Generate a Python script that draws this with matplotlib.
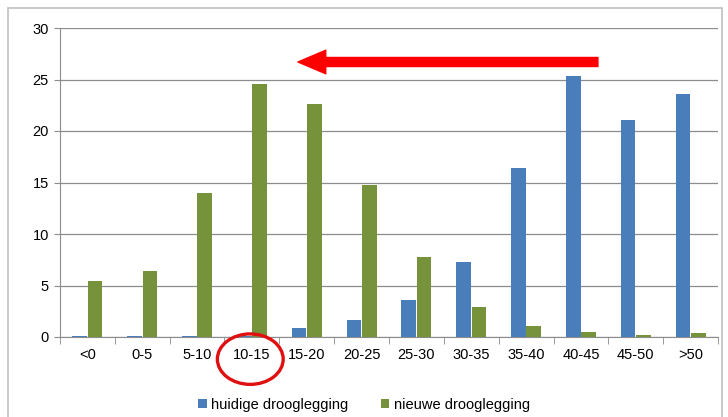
"""Drooglegging verdeling: huidige vs nieuwe (staafdiagram)."""
import matplotlib
matplotlib.use("Agg")
import matplotlib.pyplot as plt
import numpy as np
from matplotlib.patches import Ellipse, FancyArrowPatch, Rectangle

categories = ["<0", "0-5", "5-10", "10-15", "15-20", "20-25", "25-30",
              "30-35", "35-40", "40-45", "45-50", ">50"]
huidige = [0.1, 0.1, 0.1, 0.1, 0.85, 1.65, 3.6, 7.3, 16.4, 25.3, 21.1, 23.6]
nieuwe = [5.4, 6.4, 14.0, 24.6, 22.6, 14.8, 7.8, 2.9, 1.05, 0.5, 0.15, 0.35]

BLUE = "#4a7ebb"
GREEN = "#76933c"
GRID = "#8c8c8c"

plt.rcParams["font.family"] = ["Liberation Sans", "DejaVu Sans"]

fig = plt.figure(figsize=(7.28, 4.17), dpi=100)
ax = fig.add_axes([60 / 728, 1 - 337 / 417, 658 / 728, 309 / 417])

# outer chart frame
fig.patches.append(Rectangle((8 / 728, -0.01), 714 / 728, 1 - 8 / 417 + 0.01,
                             transform=fig.transFigure, fill=False,
                             edgecolor="#c0c0c0", linewidth=1.2))

x = np.arange(len(categories))
w = 0.27
ax.bar(x - w / 2 - 0.005, huidige, width=w, color=BLUE, zorder=3,
       label="huidige drooglegging")
ax.bar(x + w / 2 + 0.005, nieuwe, width=w, color=GREEN, zorder=3,
       label="nieuwe drooglegging")

ax.set_xlim(-0.5, len(categories) - 0.5)
ax.set_ylim(0, 30)
ax.set_yticks(range(0, 31, 5))
ax.yaxis.grid(True, color=GRID, linewidth=0.9, zorder=0)
ax.set_xticks(x)
ax.set_xticklabels(categories, fontsize=10.5)
ax.set_xticks(np.arange(-0.5, len(categories), 1), minor=True)
ax.tick_params(axis="x", which="major", length=0, pad=8)
ax.tick_params(axis="x", which="minor", length=5, color=GRID)
ax.tick_params(axis="y", length=4, color=GRID, labelsize=10.5, pad=4)
for s in ("top", "right"):
    ax.spines[s].set_visible(False)
for s in ("left", "bottom"):
    ax.spines[s].set_color(GRID)

# red arrow pointing left
arrow = FancyArrowPatch((9.31, 26.7), (3.84, 26.7),
                        arrowstyle="simple,head_length=20,head_width=17,tail_width=6.5",
                        color="#ff0000", shrinkA=0, shrinkB=0, mutation_scale=1,
                        zorder=5)
ax.add_patch(arrow)

# red circle around 10-15 label
ax.add_patch(Ellipse((2.97, -2.15), 1.2, 4.9, fill=False, edgecolor="#e01010",
                     linewidth=2.4, clip_on=False, zorder=6))

leg = fig.legend(loc="center", bbox_to_anchor=(0.5, 1 - 405 / 417), ncol=2,
                 frameon=False, fontsize=10.5, handlelength=0.6,
                 handleheight=0.6, handletextpad=0.3, columnspacing=2.2)

fig.savefig("out.png", dpi=100)
